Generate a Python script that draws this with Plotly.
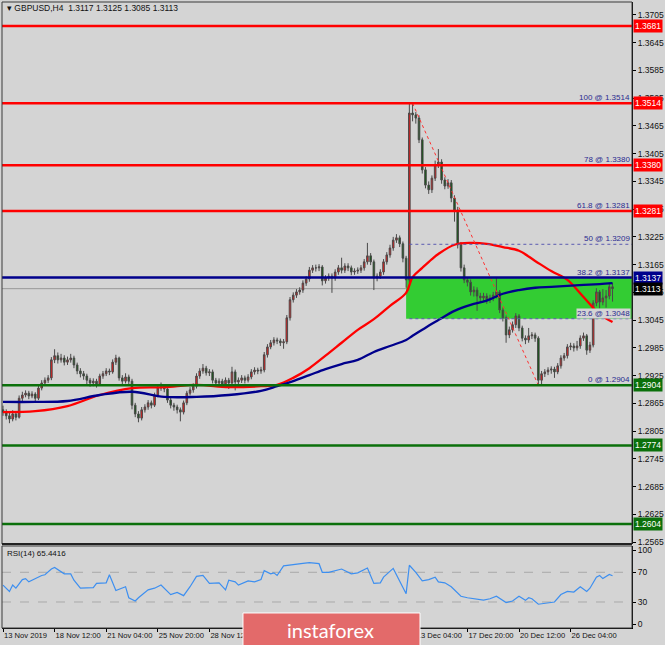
import plotly.graph_objects as go

# ---------------- data ----------------
bars = list(range(190))
close = [
    1.2846,1.2838,1.2831,1.2842,1.2835,1.2876,1.2883,1.2887,1.2881,1.2885,
    1.2876,1.2898,1.2909,1.2915,1.2920,1.2959,1.2968,1.2959,1.2963,1.2954,
    1.2959,1.2963,1.2948,1.2935,1.2929,1.2924,1.2915,1.2909,1.2913,1.2907,
    1.2924,1.2929,1.2935,1.2933,1.2954,1.2963,1.2920,1.2913,1.2922,1.2913,
    1.2861,1.2842,1.2833,1.2851,1.2857,1.2866,1.2861,1.2883,1.2898,1.2900,
    1.2896,1.2872,1.2861,1.2857,1.2851,1.2846,1.2866,1.2887,1.2894,1.2902,
    1.2924,1.2935,1.2941,1.2931,1.2933,1.2915,1.2909,1.2913,1.2907,1.2915,
    1.2909,1.2933,1.2911,1.2915,1.2920,1.2915,1.2922,1.2933,1.2937,1.2935,
    1.2937,1.2970,1.2987,1.2996,1.3002,1.3000,1.2996,1.2998,1.3050,1.3089,
    1.3099,1.3106,1.3110,1.3125,1.3134,1.3153,1.3158,1.3158,1.3160,1.3130,
    1.3136,1.3140,1.3136,1.3149,1.3158,1.3153,1.3162,1.3158,1.3149,1.3151,
    1.3153,1.3158,1.3171,1.3184,1.3171,1.3136,1.3140,1.3149,1.3171,1.3186,
    1.3201,1.3218,1.3223,1.3210,1.3179,1.3132,1.3493,1.3489,1.3482,1.3435,
    1.3370,1.3337,1.3327,1.3352,1.3381,1.3387,1.3348,1.3335,1.3342,1.3309,
    1.3283,1.3208,1.3158,1.3132,1.3127,1.3106,1.3110,1.3097,1.3093,1.3097,
    1.3089,1.3093,1.3099,1.3106,1.3067,1.3050,1.3013,1.3024,1.3035,1.3054,
    1.3028,1.3006,1.3002,1.3011,1.3013,1.3006,1.2915,1.2929,1.2933,1.2937,
    1.2939,1.2933,1.2946,1.2963,1.2968,1.2987,1.2989,1.2985,1.2989,1.3006,
    1.3011,1.2980,1.2991,1.3082,1.3106,1.3084,1.3093,1.3097,1.3117,1.3113,
]
high = [
    1.2860,1.2852,1.2845,1.2850,1.2848,1.2882,1.2890,1.2893,1.2892,1.2891,
    1.2889,1.2903,1.2915,1.2921,1.2926,1.2965,1.2982,1.2975,1.2972,1.2969,
    1.2966,1.2972,1.2968,1.2953,1.2941,1.2935,1.2929,1.2920,1.2919,1.2918,
    1.2929,1.2935,1.2941,1.2940,1.2960,1.2970,1.2966,1.2926,1.2930,1.2927,
    1.2918,1.2866,1.2848,1.2857,1.2863,1.2872,1.2871,1.2888,1.2904,1.2910,
    1.2906,1.2900,1.2877,1.2866,1.2862,1.2856,1.2871,1.2892,1.2900,1.2908,
    1.2930,1.2941,1.2950,1.2946,1.2939,1.2938,1.2920,1.2919,1.2918,1.2921,
    1.2920,1.2944,1.2938,1.2921,1.2926,1.2925,1.2928,1.2939,1.2943,1.2942,
    1.2944,1.2976,1.2993,1.3002,1.3008,1.3007,1.3005,1.3004,1.3056,1.3095,
    1.3105,1.3112,1.3116,1.3131,1.3140,1.3160,1.3164,1.3165,1.3166,1.3164,
    1.3142,1.3146,1.3146,1.3155,1.3164,1.3180,1.3168,1.3168,1.3163,1.3157,
    1.3159,1.3164,1.3177,1.3212,1.3190,1.3176,1.3146,1.3155,1.3177,1.3192,
    1.3208,1.3225,1.3231,1.3228,1.3215,1.3184,1.3514,1.3512,1.3495,1.3488,
    1.3440,1.3376,1.3345,1.3358,1.3390,1.3415,1.3393,1.3354,1.3350,1.3348,
    1.3315,1.3290,1.3214,1.3165,1.3138,1.3133,1.3118,1.3116,1.3104,1.3104,
    1.3103,1.3100,1.3106,1.3136,1.3110,1.3072,1.3055,1.3031,1.3042,1.3060,
    1.3058,1.3033,1.3012,1.3028,1.3019,1.3018,1.3010,1.2935,1.2939,1.2943,
    1.2945,1.2944,1.2952,1.2969,1.2974,1.2993,1.2996,1.2995,1.3000,1.3012,
    1.3018,1.3015,1.2998,1.3088,1.3114,1.3110,1.3112,1.3110,1.3126,1.3125,
]
low = [
    1.2838,1.2830,1.2822,1.2826,1.2828,1.2832,1.2870,1.2878,1.2874,1.2876,
    1.2868,1.2872,1.2893,1.2904,1.2909,1.2915,1.2952,1.2951,1.2953,1.2947,
    1.2948,1.2953,1.2941,1.2928,1.2921,1.2916,1.2906,1.2901,1.2902,1.2899,
    1.2903,1.2918,1.2924,1.2926,1.2929,1.2948,1.2914,1.2905,1.2908,1.2906,
    1.2852,1.2835,1.2824,1.2828,1.2845,1.2851,1.2854,1.2857,1.2878,1.2892,
    1.2889,1.2866,1.2854,1.2849,1.2843,1.2826,1.2841,1.2861,1.2882,1.2888,
    1.2897,1.2918,1.2929,1.2925,1.2924,1.2908,1.2901,1.2902,1.2898,1.2901,
    1.2896,1.2904,1.2893,1.2904,1.2909,1.2908,1.2910,1.2917,1.2927,1.2928,
    1.2929,1.2932,1.2964,1.2982,1.2990,1.2993,1.2989,1.2983,1.2993,1.3044,
    1.3083,1.3093,1.3100,1.3104,1.3119,1.3128,1.3147,1.3150,1.3151,1.3120,
    1.3124,1.3130,1.3104,1.3130,1.3143,1.3146,1.3147,1.3151,1.3142,1.3143,
    1.3145,1.3147,1.3152,1.3165,1.3164,1.3110,1.3129,1.3134,1.3143,1.3165,
    1.3180,1.3195,1.3212,1.3203,1.3170,1.3115,1.3125,1.3475,1.3470,1.3428,
    1.3362,1.3330,1.3318,1.3320,1.3346,1.3374,1.3340,1.3328,1.3329,1.3300,
    1.3258,1.3200,1.3150,1.3125,1.3118,1.3098,1.3096,1.3065,1.3082,1.3085,
    1.3080,1.3082,1.3086,1.3092,1.3060,1.3042,1.2996,1.3006,1.3018,1.3028,
    1.3021,1.2999,1.2993,1.2996,1.3004,1.2998,1.2904,1.2906,1.2922,1.2926,
    1.2929,1.2920,1.2928,1.2940,1.2957,1.2962,1.2980,1.2977,1.2979,1.2983,
    1.3000,1.2970,1.2974,1.2986,1.3075,1.3070,1.3077,1.3072,1.3090,1.3085,
]
first_open = 1.2851
opn = [first_open] + close[:-1]

ma_idx = [0, 10, 20, 30, 40, 50, 60, 70, 80, 85, 90, 95, 100, 105, 110, 115, 120,
          125, 127, 130, 133, 135, 140, 145, 150, 155, 160, 165, 170, 175, 180, 185, 189]
ma_red = [1.2846, 1.2848, 1.2859, 1.2883, 1.2898, 1.2900, 1.2905, 1.2900, 1.2902, 1.2905,
          1.2920, 1.2941, 1.2968, 1.2996, 1.3024, 1.3047, 1.3076,
          1.3104, 1.3138, 1.3158, 1.3177, 1.3188, 1.3208, 1.3212, 1.3210, 1.3203, 1.3195,
          1.3173, 1.3151, 1.3132, 1.3095, 1.3058, 1.3041]
ma_blue = [1.2868, 1.2868, 1.2870, 1.2883, 1.2890, 1.2879, 1.2879, 1.2883, 1.2892, 1.2902,
           1.2913, 1.2926, 1.2939, 1.2950, 1.2959, 1.2976, 1.2989,
           1.3002, 1.3011, 1.3024, 1.3037, 1.3045, 1.3065, 1.3078, 1.3087, 1.3102, 1.3110,
           1.3115, 1.3117, 1.3119, 1.3121, 1.3123, 1.3125]

rsi_idx = [0,2,3,4,6,7,8,10,12,13,15,16,18,19,21,22,24,26,28,29,32,33,35,38,39,41,42,45,47,49,
           51,52,54,56,58,60,62,64,67,69,70,72,73,76,78,80,81,83,84,85,87,90,93,95,98,99,101,105,
           108,110,113,115,117,118,121,125,126,128,130,132,134,135,137,139,140,142,144,147,149,151,
           153,156,158,160,162,163,164,166,169,171,173,175,177,179,181,182,184,185,186,188,189]
rsi_val = [52.8,44.2,52.8,48.6,60.2,61.5,57.1,61.5,65.7,66.6,74.4,76.5,70.0,67.9,67.9,59.3,48.6,
           48.6,49.4,55.0,55.8,66.6,45.5,50.6,35.7,31.3,35.7,46.4,48.6,52.8,44.2,40.0,42.9,38.6,
           50.6,64.5,65.7,55.0,55.8,46.4,59.3,57.1,52.8,58.4,57.1,60.2,72.2,67.9,69.2,65.7,78.6,
           80.8,82.1,82.9,81.6,70.0,70.0,74.4,67.9,69.2,75.7,55.0,55.8,63.5,75.2,41.2,79.5,70.0,
           58.4,60.2,63.5,57.1,55.8,50.6,46.4,37.7,35.7,34.4,32.6,34.4,37.7,29.2,31.3,37.7,32.2,
           35.7,34.4,27.0,29.2,30.0,40.0,44.2,43.4,50.6,44.2,48.6,63.5,65.7,61.5,67.1,65.4]
rsi_text = "RSI(14) 65.4416"
rsi_levels = [30, 70]

price_ticks = [1.3705, 1.3645, 1.3585, 1.3525, 1.3465, 1.3405, 1.3345, 1.3285, 1.3225, 1.3165,
               1.3105, 1.3045, 1.2985, 1.2925, 1.2865, 1.2805, 1.2745, 1.2685, 1.2625, 1.2565]
red_levels = [1.3681, 1.3514, 1.3380, 1.3281]
navy_level = 1.3137
green_levels = [1.2904, 1.2774, 1.2604]
last_price = 1.3113

fib_names = ["100", "78", "61.8", "50", "38.2", "23.6", "0"]
fib_prices = [1.3514, 1.3380, 1.3281, 1.3209, 1.3137, 1.3048, 1.2904]
fib_from_bar = 126
zone_from_bar = 125
zone_low, zone_high = 1.3048, 1.3137
fib_trend_bars = [127, 166]
fib_trend_prices = [1.3514, 1.2904]

x_tick_bars = [0, 16, 32, 48, 64, 80, 96, 112, 128, 144, 160, 176]
x_tick_text = ["13 Nov 2019", "18 Nov 12:00", "21 Nov 04:00", "25 Nov 20:00", "28 Nov 12:00",
               "3 Dec 04:00", "5 Dec 20:00", "10 Dec 12:00", "13 Dec 04:00", "17 Dec 20:00",
               "20 Dec 12:00", "26 Dec 04:00"]
header = "▾ GBPUSD,H4  1.3117 1.3125 1.3085 1.3113"

# ---------------- styling ----------------
BG = "#d4d4d4"
FONT = "Liberation Sans"
RED = "#ff0000"
NAVY = "#00008c"
GREEN = "#0b700b"
FIBC = "#2b2b90"
X0, X1 = -0.31, 195.04
MAIN_BOTTOM = 0.1342
RSI_TOP = 0.131

fig = go.Figure()
fig.add_trace(go.Candlestick(
    x=bars, open=opn, high=high, low=low, close=close, xaxis="x", yaxis="y",
    increasing=dict(fillcolor="#ff1414", line=dict(color="#4a4a4a", width=1)),
    decreasing=dict(fillcolor="#0b5a0b", line=dict(color="#4a4a4a", width=1)),
    whiskerwidth=0, showlegend=False, hoverinfo="skip"))
fig.add_trace(go.Scatter(x=ma_idx, y=ma_red, mode="lines", line=dict(color=RED, width=2.3, shape="spline"),
                         xaxis="x", yaxis="y", hoverinfo="skip"))
fig.add_trace(go.Scatter(x=ma_idx, y=ma_blue, mode="lines", line=dict(color=NAVY, width=2.3, shape="spline"),
                         xaxis="x", yaxis="y", hoverinfo="skip"))
fig.add_trace(go.Scatter(x=fib_trend_bars, y=fib_trend_prices, mode="lines",
                         line=dict(color="#ff3030", width=1, dash="dot"), xaxis="x", yaxis="y", hoverinfo="skip"))
fig.add_trace(go.Scatter(x=rsi_idx, y=rsi_val, mode="lines", line=dict(color="#3d8ff0", width=1.2),
                         xaxis="x", yaxis="y2", hoverinfo="skip"))

shapes = []
shapes.append(dict(type="rect", xref="x", yref="y", x0=zone_from_bar, x1=X1 + 5, y0=zone_low, y1=zone_high,
                   fillcolor="#33cc33", line=dict(width=0), layer="below"))
for p in fib_prices:
    shapes.append(dict(type="line", xref="x", yref="y", x0=fib_from_bar, x1=X1 + 5, y0=p, y1=p,
                       line=dict(color="#5a5ab0", width=1, dash="dot"), layer="above"))
shapes.append(dict(type="line", xref="paper", yref="y", x0=0, x1=1, y0=last_price, y1=last_price,
                   line=dict(color="#9a9a9a", width=1), layer="below"))
for p in red_levels:
    shapes.append(dict(type="line", xref="paper", yref="y", x0=0, x1=1, y0=p, y1=p,
                       line=dict(color=RED, width=2.5), layer="above"))
shapes.append(dict(type="line", xref="paper", yref="y", x0=0, x1=1, y0=navy_level, y1=navy_level,
                   line=dict(color=NAVY, width=2.5), layer="above"))
for p in green_levels:
    shapes.append(dict(type="line", xref="paper", yref="y", x0=0, x1=1, y0=p, y1=p,
                       line=dict(color=GREEN, width=2.5), layer="above"))
for lv in rsi_levels:
    shapes.append(dict(type="line", xref="paper", yref="y2", x0=0, x1=1, y0=lv, y1=lv,
                       line=dict(color="#a9a9a9", width=1, dash="dash"), layer="below"))
shapes.append(dict(type="rect", xref="paper", yref="paper", x0=0, x1=1, y0=MAIN_BOTTOM, y1=1,
                   line=dict(color="#3a3a3a", width=1), layer="above"))
shapes.append(dict(type="line", xref="paper", yref="paper", x0=0, x1=1, y0=MAIN_BOTTOM, y1=MAIN_BOTTOM,
                   line=dict(color="#222", width=2), layer="above"))
shapes.append(dict(type="rect", xref="paper", yref="paper", x0=0, x1=1, y0=0, y1=RSI_TOP,
                   line=dict(color="#3a3a3a", width=1), layer="above"))
shapes.append(dict(type="rect", xref="paper", yref="paper", x0=0.3825, x1=0.6635, y0=-0.03, y1=0.024,
                   fillcolor="#e36a6a", line=dict(color="#ffffff", width=1), layer="above"))

ann = []
ann.append(dict(xref="paper", yref="paper", x=0.004, y=0.991, xanchor="left", yanchor="middle",
                text=header, showarrow=False, font=dict(family=FONT, size=8.5, color="#111")))
ann.append(dict(xref="paper", yref="paper", x=0.005, y=0.1198, xanchor="left", yanchor="middle",
                text=rsi_text, showarrow=False, font=dict(family=FONT, size=8, color="#111")))
for n, p in zip(fib_names, fib_prices):
    a = dict(xref="paper", yref="y", x=1, y=p, xanchor="right", yanchor="bottom", xshift=-1, yshift=0,
             text=f"{n} @ {p:.4f}", showarrow=False, font=dict(family=FONT, size=8, color=FIBC), borderpad=0)
    if n == "23.6":
        a["bgcolor"] = BG
    ann.append(a)

def price_box(p, col):
    return dict(xref="paper", yref="y", x=1, y=p, xanchor="left", yanchor="middle", xshift=1,
                text=f"{p:.4f}", showarrow=False, bgcolor=col, borderpad=1,
                font=dict(family=FONT, size=8.5, color="#ffffff"))

for p in red_levels:
    ann.append(price_box(p, RED))
ann.append(price_box(navy_level, NAVY))
ann.append(price_box(last_price, "#000000"))
for p in green_levels:
    ann.append(price_box(p, GREEN))
ann.append(dict(xref="paper", yref="paper", x=0.522, y=-0.003, xanchor="center", yanchor="middle",
                text="instaforex", showarrow=False, font=dict(family="Lato", size=20, color="#ffffff")))

fig.update_layout(
    width=665, height=645, margin=dict(l=2, r=33, t=2, b=17, autoexpand=False),
    paper_bgcolor=BG, plot_bgcolor=BG, showlegend=False,
    xaxis=dict(domain=[0, 1], range=[X0, X1], anchor="y2", showgrid=False, zeroline=False,
               tickvals=x_tick_bars, ticktext=x_tick_text, ticks="outside", ticklen=3, tickcolor="#000",
               ticklabelposition="outside right", showticklabels=True, tickangle=0, automargin=False,
               tickfont=dict(family=FONT, size=7.6, color="#111"),
               showline=True, linecolor="#000", linewidth=1,
               rangeslider=dict(visible=False)),
    yaxis=dict(domain=[MAIN_BOTTOM, 1], range=[1.25607, 1.37331], side="right", anchor="x",
               tickvals=price_ticks, ticktext=[f"{v:.4f}" for v in price_ticks], automargin=False,
               ticks="outside", ticklen=3, tickcolor="#000", showgrid=False, zeroline=False,
               showline=True, linecolor="#000", linewidth=1,
               tickfont=dict(family=FONT, size=8.5, color="#111")),
    yaxis2=dict(domain=[0, RSI_TOP], range=[-5, 105.4], side="right", anchor="x",
                tickvals=[0, 30, 70, 100], ticktext=["0", "30", "70", "100"], automargin=False,
                ticks="outside", ticklen=3, tickcolor="#000", showgrid=False, zeroline=False,
                showline=True, linecolor="#000", linewidth=1,
                tickfont=dict(family=FONT, size=8.5, color="#111")),
    shapes=shapes, annotations=ann,
)

fig.write_html("out.html", config={"displayModeBar": False},
               post_script="document.body.style.margin='0';document.body.style.padding='0';document.body.style.overflow='hidden';")
